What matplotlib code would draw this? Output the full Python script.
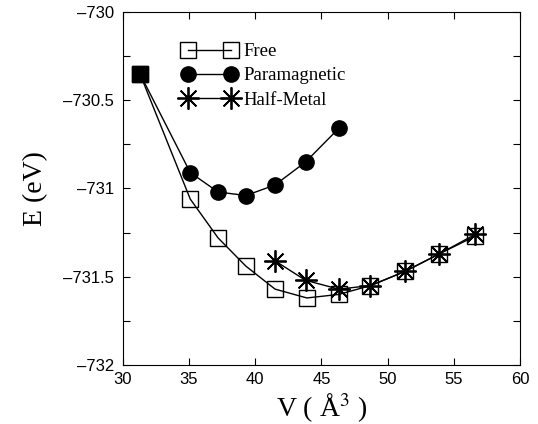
import matplotlib
matplotlib.use('Agg')
import matplotlib.pyplot as plt
from matplotlib.ticker import MultipleLocator

# volume (A^3) and energy (eV)
free_v = [31.3, 35.1, 37.2, 39.3, 41.5, 43.9, 46.3, 48.7, 51.3, 53.9, 56.6]
free_e = [-730.35, -731.06, -731.28, -731.44, -731.57, -731.62, -731.60,
          -731.55, -731.47, -731.37, -731.27]

para_v = [31.3, 35.1, 37.2, 39.3, 41.5, 43.8, 46.3]
para_e = [-730.35, -730.91, -731.02, -731.04, -730.98, -730.85, -730.66]

hm_v = [41.5, 43.8, 46.3, 48.7, 51.3, 53.9, 56.6]
hm_e = [-731.41, -731.52, -731.57, -731.55, -731.47, -731.37, -731.26]

serif = 'Liberation Serif'
sans = 'Liberation Sans'
plt.rcParams['mathtext.fontset'] = 'stix'

fig = plt.figure(figsize=(5.38, 4.24), dpi=100)
ax = fig.add_axes([0.228, 0.139, 0.739, 0.833])

star = (8, 2, 0)
ax.plot(free_v, free_e, color='k', lw=1, marker='s', ms=11,
        mfc='none', mec='k', mew=1, label='Free')
ax.plot(para_v, para_e, color='k', lw=1, marker='o', ms=11,
        mfc='k', mec='k', label='Paramagnetic')
ax.plot(hm_v, hm_e, color='k', lw=1, marker=star, ms=16,
        mew=1.3, mec='k', label='Half-Metal')
# first point shows as a solid square
ax.plot(para_v[:1], para_e[:1], ls='none', marker='s', ms=11, mfc='k', mec='k')

ax.set_xlim(30, 60)
ax.set_ylim(-732, -730)
ax.xaxis.set_major_locator(MultipleLocator(5))
ax.yaxis.set_major_locator(MultipleLocator(0.5))
ax.yaxis.set_minor_locator(MultipleLocator(0.25))
ax.tick_params(which='both', direction='in', top=True, right=True,
               length=5, width=0.8)
ax.tick_params(axis='y', labelsize=12, pad=6)
ax.tick_params(axis='x', labelsize=12, pad=5)
ax.yaxis.set_major_formatter(plt.FuncFormatter(lambda v, p: ('%g' % v).replace('-', '\u2013')))
for lab in ax.get_xticklabels() + ax.get_yticklabels():
    lab.set_fontfamily(sans)

ax.set_xlabel('V ( Å$^3$ )', fontsize=20, fontfamily=serif, labelpad=3)
ax.set_ylabel('E (eV)', fontsize=20, fontfamily=serif, labelpad=11)

leg = ax.legend(loc='upper left', bbox_to_anchor=(0.151, 0.912), frameon=False,
                numpoints=2, handlelength=2.9, handletextpad=0.35,
                labelspacing=0.38, borderpad=0, borderaxespad=0,
                prop={'family': serif, 'size': 13.5})

fig.savefig('out.png', dpi=100)
